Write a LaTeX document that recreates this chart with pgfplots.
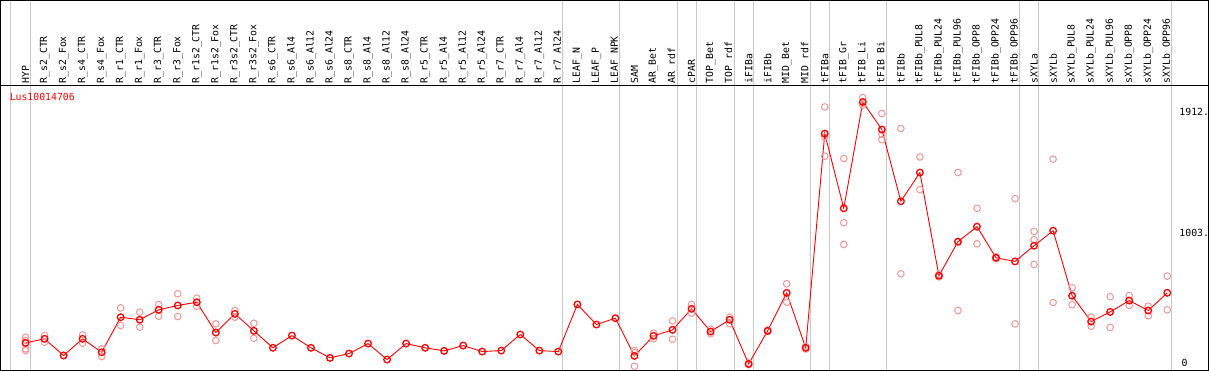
\documentclass[border=0pt]{standalone}
\usepackage{fontspec}
\usepackage{pgfplots}
\pgfplotsset{compat=1.18}
\newfontfamily\lblfont{DejaVu Sans Mono}
\newcommand{\lbl}{\lblfont\fontsize{9.8}{11}\selectfont}
\definecolor{gridgray}{RGB}{200,200,200}
\definecolor{reppink}{RGB}{240,150,150}
\begin{document}
\begin{tikzpicture}
\begin{axis}[
  scale only axis, width=1206pt, height=369pt,
  xmin=-1.316, xmax=62.16, ymin=0, ymax=2636,
  axis line style={black, line width=1pt},
  xtick={0,...,60},
  xticklabels={HYP,R\_s2\_CTR,R\_s2\_Fox,R\_s4\_CTR,R\_s4\_Fox,R\_r1\_CTR,R\_r1\_Fox,R\_r3\_CTR,R\_r3\_Fox,R\_r1s2\_CTR,R\_r1s2\_Fox,R\_r3s2\_CTR,R\_r3s2\_Fox,R\_s6\_CTR,R\_s6\_Al4,R\_s6\_Al12,R\_s6\_Al24,R\_s8\_CTR,R\_s8\_Al4,R\_s8\_Al12,R\_s8\_Al24,R\_r5\_CTR,R\_r5\_Al4,R\_r5\_Al12,R\_r5\_Al24,R\_r7\_CTR,R\_r7\_Al4,R\_r7\_Al12,R\_r7\_Al24,LEAF\_N,LEAF\_P,LEAF\_NPK,SAM,AR\_Bet,AR\_rdf,cPAR,TOP\_Bet,TOP\_rdf,iFIBa,iFIBb,MID\_Bet,MID\_rdf,tFIBa,tFIB\_Gr,tFIB\_Li,tFIB\_Bi,tFIBb,tFIBb\_PUL8,tFIBb\_PUL24,tFIBb\_PUL96,tFIBb\_OPP8,tFIBb\_OPP24,tFIBb\_OPP96,sXYLa,sXYLb,sXYLb\_PUL8,sXYLb\_PUL24,sXYLb\_PUL96,sXYLb\_OPP8,sXYLb\_OPP24,sXYLb\_OPP96},
  xticklabel pos=upper, xticklabel shift=-83pt,
  xticklabel style={rotate=90, anchor=west, inner sep=0pt, font=\lbl},
  major tick length=0pt, minor tick length=0pt,
  ytick=\empty,
  minor ytick={1003}, yminorgrids=true,
  minor grid style={gridgray, line width=1pt},
  extra x ticks={-0.8,0.237,28.237,31.237,34.237,35.237,37.237,38.237,41.237,42.237,45.237,52.237,53.237,60.237},
  extra x tick labels={},
  extra x tick style={grid=major, major grid style={gridgray, line width=1pt}},
  clip=false,
]
% replicates
\addplot[only marks, mark=o, mark size=3.3pt, color=reppink, mark options={line width=1pt}] coordinates {
(0,234) (0,211) (0,151) (0,139)
(1,246) (1,199) (2,104)
(3,251) (3,191)
(4,151) (4,96)
(5,444) (5,318)
(6,413) (6,306)
(7,468) (7,384)
(8,544) (8,382)
(9,513) (9,454)
(10,330) (10,211)
(11,425) (11,377)
(12,334) (12,227)
(32,139) (32,27) (32,125)
(33,263) (33,223)
(34,351) (34,220)
(35,468) (35,406)
(36,291) (36,259)
(37,377) (37,330)
(38,50) (38,38)
(39,285) (39,275)
(40,616) (40,484)
(41,170) (41,150)
(42,1877) (42,1663) (42,1525)
(43,1509) (43,1051) (43,896)
(44,1944) (44,1889)
(45,1830) (45,1682) (45,1644)
(46,1723) (46,687)
(47,1520) (47,1287)
(48,682) (48,665)
(49,1409) (49,425) (49,914)
(50,1154) (50,901)
(51,808) (51,795)
(52,1223) (52,330)
(53,989) (53,930) (53,754)
(54,1504) (54,482)
(55,587) (55,466)
(56,377) (56,313)
(57,523) (57,304)
(58,532) (58,461)
(59,456) (59,387)
(60,670) (60,430)
};
% means
\addplot[red, line width=0.9pt, mark=o, mark size=3.3pt, mark options={line width=1.3pt}] coordinates {
(0,194) (1,223) (2,104) (3,223) (4,127) (5,377) (6,359) (7,430) (8,461) (9,484)
(10,268) (11,401) (12,280) (13,159) (14,246) (15,159) (16,87) (17,118) (18,189) (19,75)
(20,189) (21,159) (22,137) (23,175) (24,132) (25,139) (26,254) (27,139) (28,132) (29,468)
(30,325) (31,370) (32,101) (33,244) (34,287) (35,437) (36,275) (37,359) (38,44) (39,280)
(40,551) (41,159) (42,1687) (43,1154) (44,1912) (45,1716) (46,1204) (47,1409) (48,673) (49,916)
(50,1023) (51,801) (52,775) (53,887) (54,994) (55,530) (56,346) (57,415) (58,496) (59,425)
(60,551)
};
\draw[black, line width=1pt] (rel axis cs:0,0.7709) -- (rel axis cs:1,0.7709);
\node[anchor=west, inner sep=0pt, text=red, font=\lbl] at (axis cs:-0.84,1949) {Lus10014706};
\node[anchor=north west, inner sep=0pt, font=\lbl] at (axis cs:60.63,1870) {1912.};
\node[anchor=north west, inner sep=0pt, font=\lbl] at (axis cs:60.63,1003) {1003.};
\node[anchor=south west, inner sep=0pt, font=\lbl] at (axis cs:60.74,25) {0};
\end{axis}
\end{tikzpicture}
\end{document}
